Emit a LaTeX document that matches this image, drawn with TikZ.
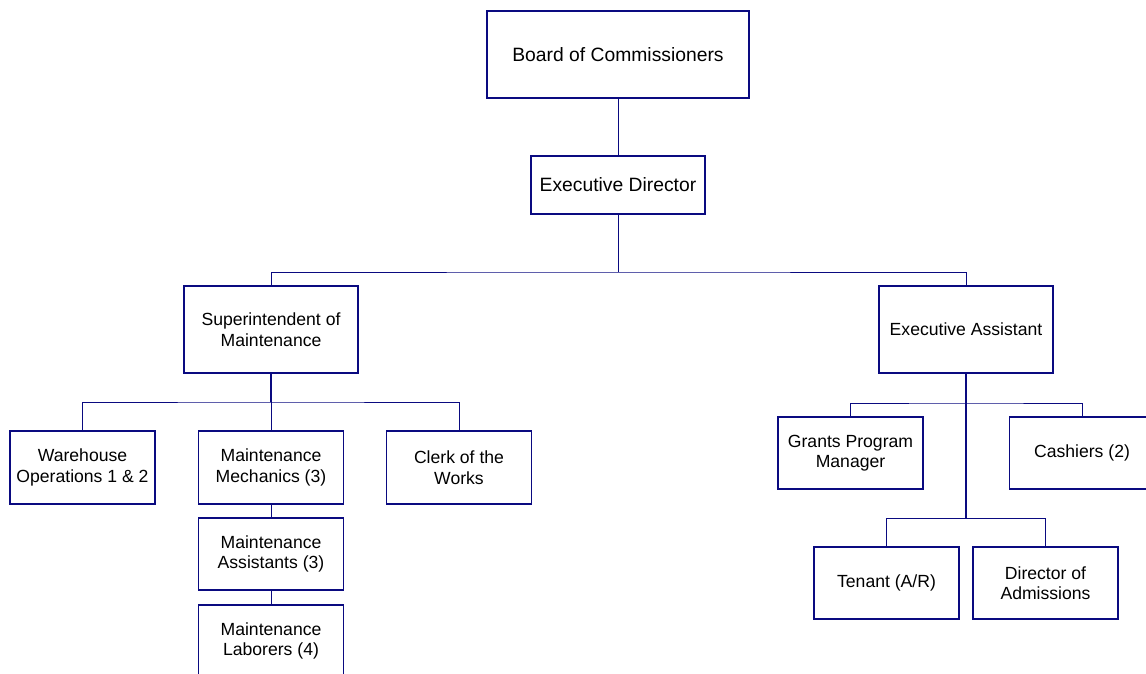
\documentclass[tikz,border=0pt]{standalone}
\usepackage{fontspec}
\setmainfont{Liberation Sans}
\definecolor{navy}{RGB}{10,10,128}
\tikzset{
  orgbox/.style={draw=navy, line width=1.1pt, fill=white, align=center, inner sep=0pt,
    font=\fontsize{17.6}{20.6}\selectfont},
  bigbox/.style={orgbox, font=\fontsize{19.3}{22}\selectfont},
  wide/.style={minimum width=174pt},
  narrow/.style={minimum width=145pt},
  tall/.style={minimum height=87pt},
  short/.style={minimum height=72pt},
  link/.style={draw=navy, line width=1pt},
  trunk/.style={draw=navy, line width=2pt}
}
\begin{document}
\begin{tikzpicture}[x=1pt,y=-1pt]
\useasboundingbox (0,0) rectangle (1146,673);
\fill[white] (0,0) rectangle (1146,673);
% nodes
\node[bigbox, minimum width=262pt, minimum height=87pt] (board) at (618,54.5) {Board of Commissioners};
\node[bigbox, wide, minimum height=58pt] (exec) at (618,185) {Executive Director};
\node[orgbox, wide, tall] (supt) at (271,329.5) {Superintendent of\\Maintenance};
\node[orgbox, wide, tall] (ea) at (966,329.5) {Executive Assistant};
\node[orgbox, narrow, minimum height=73pt] (wh) at (82.5,467.5) {Warehouse\\Operations 1 \& 2};
\node[orgbox, narrow, minimum height=73pt] (mech) at (271,467.5) {Maintenance\\Mechanics (3)};
\node[orgbox, narrow, minimum height=73pt] (clerk) at (459,467.5) {Clerk of the\\Works};
\node[orgbox, narrow, short] (asst) at (271,554) {Maintenance\\Assistants (3)};
\node[orgbox, narrow, short] (lab) at (271,641) {Maintenance\\Laborers (4)};
\node[orgbox, narrow, short] (grants) at (850.5,453) {Grants Program\\Manager};
\node[orgbox, narrow, short] (cash) at (1082,453) {Cashiers (2)};
\node[orgbox, narrow, short] (tenant) at (886.5,583) {Tenant (A/R)};
\node[orgbox, narrow, short] (dir) at (1045.5,583) {Director of\\Admissions};
% junctions
\coordinate (j1) at (618,272);
\coordinate (j2) at (271,402);
\coordinate (j3) at (966,403);
\coordinate (j4) at (966,518);
% connectors
\draw[link] (board.south) -- (exec.north);
\draw[link] (exec.south) -- (j1);
\draw[link] (supt.north) |- (j1) -| (ea.north);
\draw[trunk] (supt.south) -- (j2);
\draw[link] (wh.north) |- (j2) -| (clerk.north);
\draw[link] (j2) -- (mech.north);
\draw[link] (mech.south) -- (asst.north);
\draw[link] (asst.south) -- (lab.north);
\draw[trunk] (ea.south) -- (j4);
\draw[link] (grants.north) |- (j3) -| (cash.north);
\draw[link] (tenant.north) |- (j4) -| (dir.north);
\end{tikzpicture}
\end{document}
